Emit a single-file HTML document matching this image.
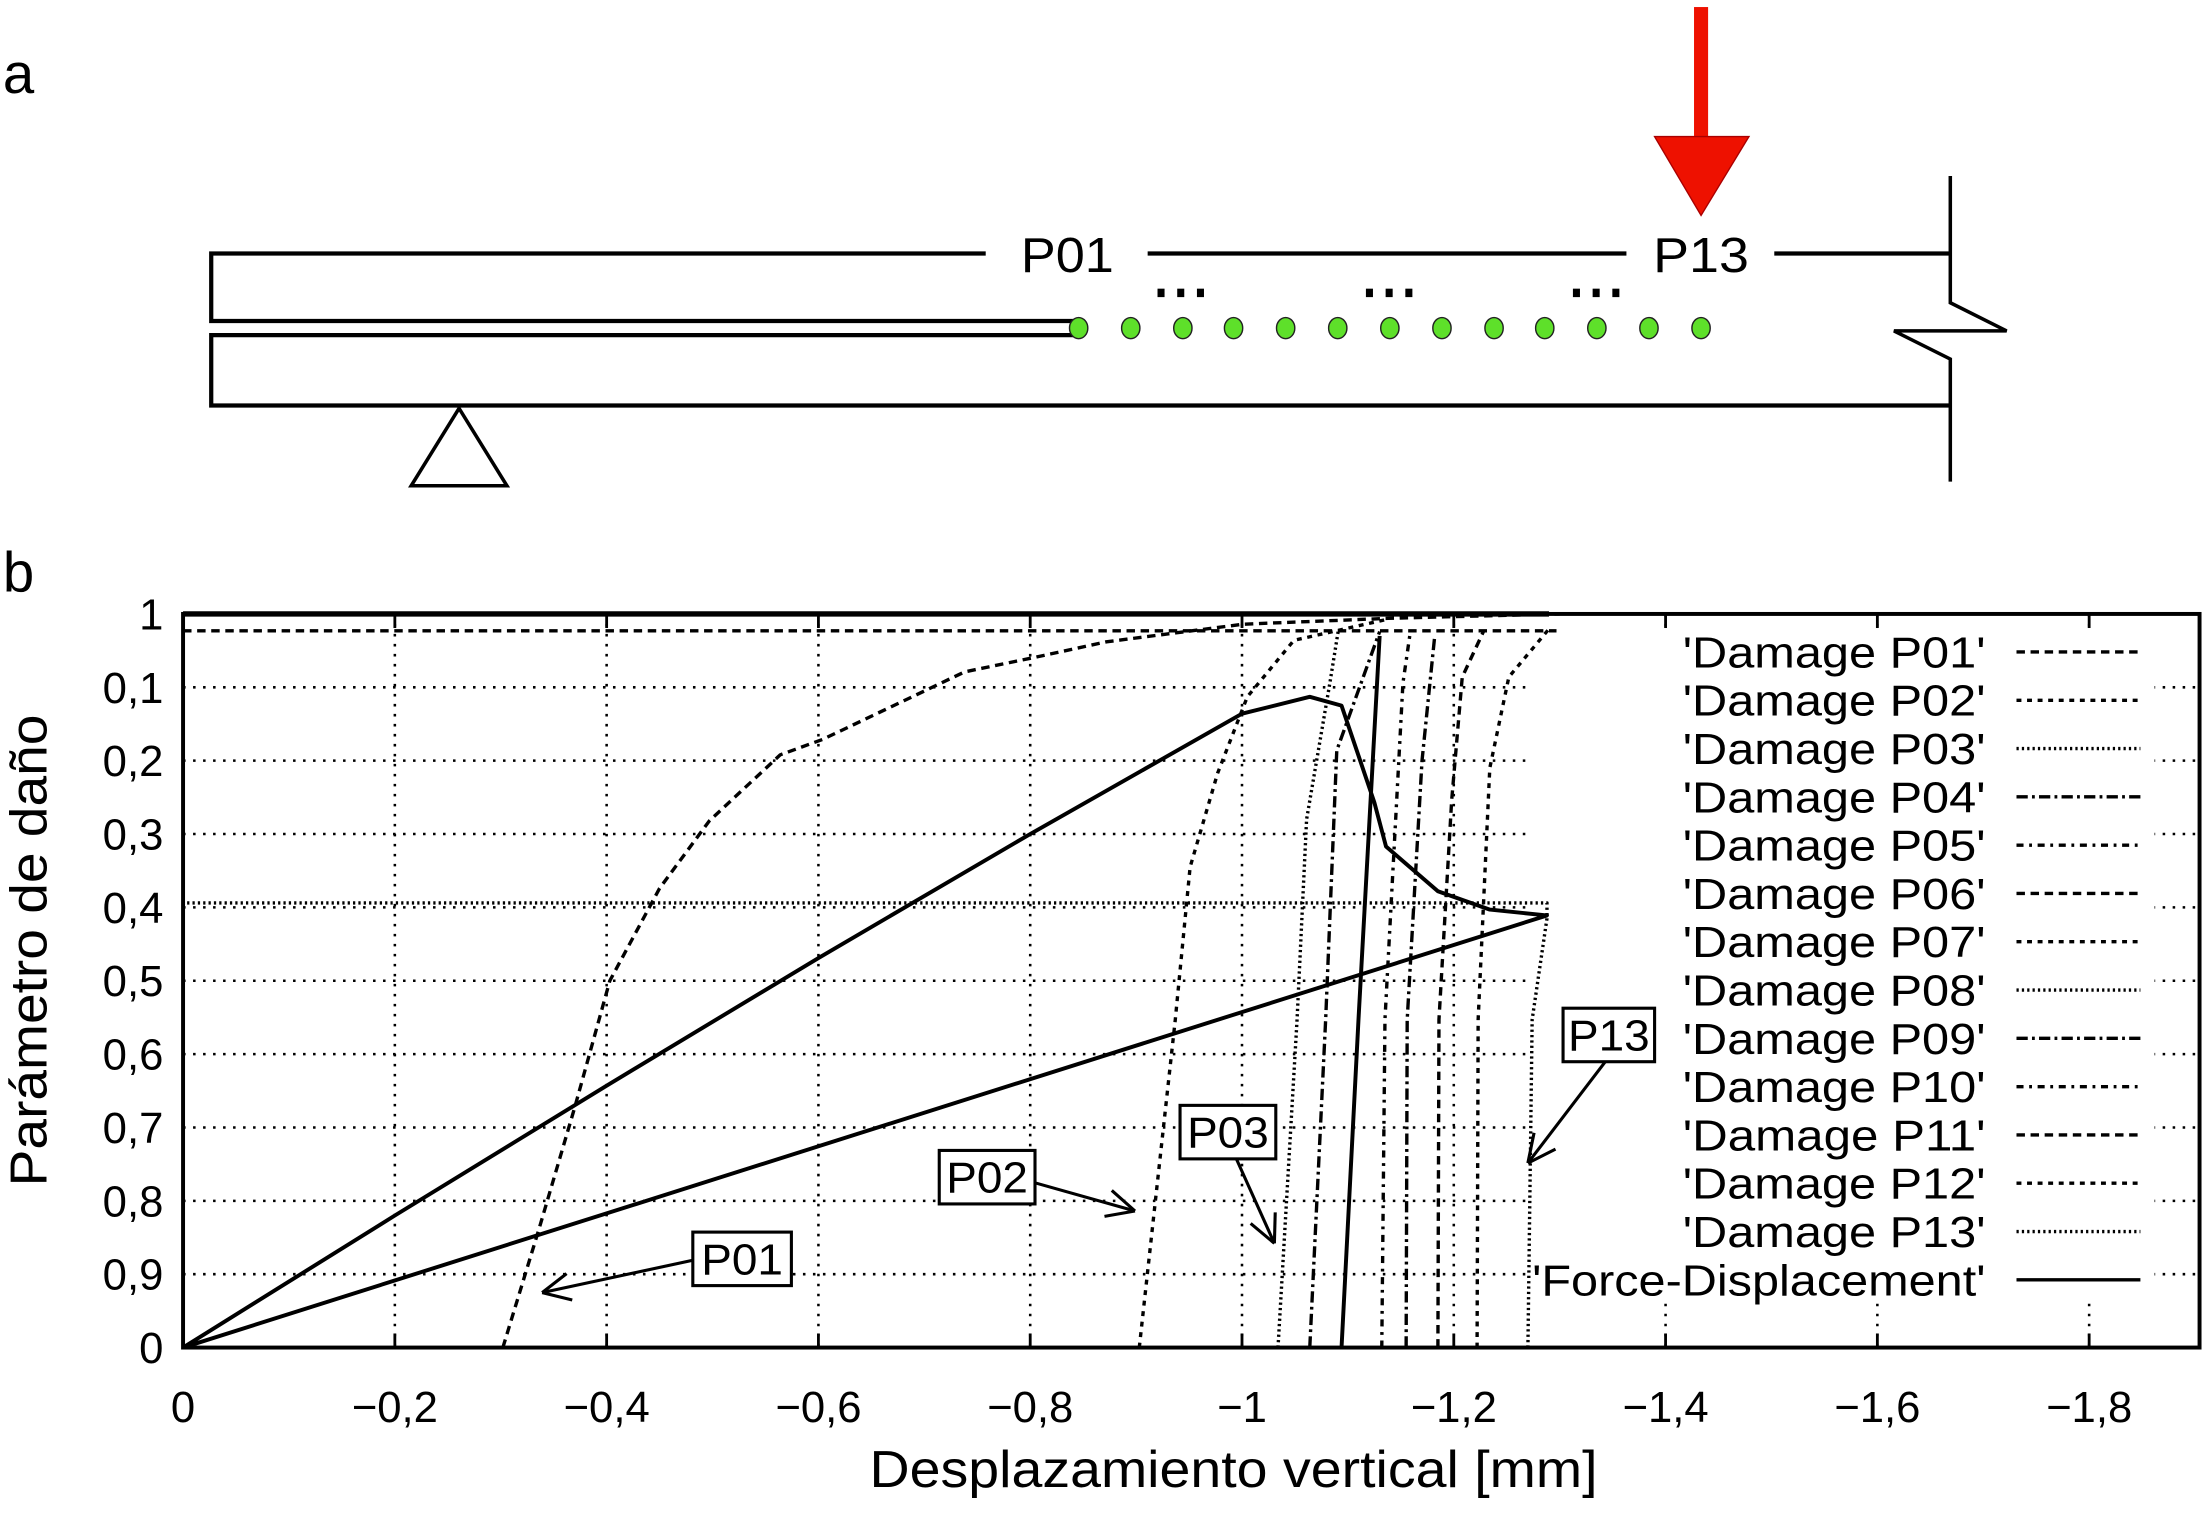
<!DOCTYPE html>
<html><head><meta charset="utf-8"><style>
html,body{margin:0;padding:0;background:#fff}
svg{display:block}
text{font-family:"Liberation Sans",sans-serif;fill:#000}
</style></head><body>
<svg id="fig" width="2208" height="1514" viewBox="0 0 1568 1075.2" preserveAspectRatio="none" xmlns="http://www.w3.org/2000/svg">
<g>
  <text x="2" y="66" font-size="40">a</text>
  <g stroke="#000" stroke-width="3" fill="none">
    <polyline points="700,180 150,180 150,228 762,228"/>
    <line x1="815" y1="180" x2="1155" y2="180"/>
    <line x1="1260" y1="180" x2="1385" y2="180"/>
    <polyline points="762,238 150,238 150,288 1385,288"/>
    <polyline points="1385,125 1385,215 1425,235 1345,235 1385,255 1385,342" stroke-width="2.5"/>
    <polygon points="326,290 292,345 360,345" stroke-width="2.5"/>
  </g>
  <text x="758" y="193" font-size="35" text-anchor="middle" textLength="66" lengthAdjust="spacingAndGlyphs">P01</text>
  <text x="1208" y="193" font-size="35" text-anchor="middle" textLength="68" lengthAdjust="spacingAndGlyphs">P13</text>
  <g id="dots"></g>
  <g fill="#000">
    <rect x="822" y="205" width="5" height="6"/><rect x="836" y="205" width="5" height="6"/><rect x="850" y="205" width="5" height="6"/>
    <rect x="970" y="205" width="5" height="6"/><rect x="984" y="205" width="5" height="6"/><rect x="998" y="205" width="5" height="6"/>
    <rect x="1117" y="205" width="5" height="6"/><rect x="1131" y="205" width="5" height="6"/><rect x="1145" y="205" width="5" height="6"/>
  </g>
  <g>
    <rect x="1203" y="5" width="10" height="93" fill="#ee1100"/>
    <polygon points="1175,97 1242,97 1208,153" fill="#ee1100" stroke="#a00" stroke-width="1"/>
  </g>
</g>
<text x="2" y="420" font-size="40">b</text>
<g id="grid"></g>
<rect x="1088" y="446" width="442" height="478" fill="#fff"/>
<g id="curves"></g>
<rect x="130" y="436" width="1432" height="521" fill="none" stroke="#000" stroke-width="2.8"/>
<line x1="130" y1="436" x2="1100" y2="436" stroke="#000" stroke-width="3.8"/>
<g id="ticks"></g>
<text x="876" y="1056" font-size="37" text-anchor="middle" textLength="517" lengthAdjust="spacingAndGlyphs">Desplazamiento vertical [mm]</text>
<text transform="translate(33,675) rotate(-90)" font-size="37" text-anchor="middle" textLength="335" lengthAdjust="spacingAndGlyphs">Parámetro de daño</text>
<g id="legend"></g>
<g id="annot"></g>
</svg>
<script>
const NS="http://www.w3.org/2000/svg";
const xTicks=[0,-0.2,-0.4,-0.6,-0.8,-1,-1.2,-1.4,-1.6,-1.8];
const xTickLabels=["0","\u22120,2","\u22120,4","\u22120,6","\u22120,8","\u22121","\u22121,2","\u22121,4","\u22121,6","\u22121,8"];
const yTicks=[1,0.9,0.8,0.7,0.6,0.5,0.4,0.3,0.2,0.1,0];
const yTickLabels=["1","0,1","0,2","0,3","0,4","0,5","0,6","0,7","0,8","0,9","0"];
const seriesNames=["'Damage P01'","'Damage P02'","'Damage P03'","'Damage P04'","'Damage P05'","'Damage P06'","'Damage P07'","'Damage P08'","'Damage P09'","'Damage P10'","'Damage P11'","'Damage P12'","'Damage P13'","'Force-Displacement'"];
const p01=[[-0.302,0],[-0.336,0.161],[-0.37,0.328],[-0.403,0.5],[-0.45,0.626],[-0.497,0.718],[-0.564,0.808],[-0.604,0.829],[-0.671,0.875],[-0.738,0.921],[-0.805,0.941],[-0.872,0.962],[-1.001,0.986],[-1.138,0.994],[-1.3,1.0]];
const p02=[[-0.903,0],[-0.937,0.447],[-0.951,0.655],[-0.977,0.783],[-1.005,0.887],[-1.049,0.964],[-1.138,0.993]];
const p03=[[-1.034,0],[-1.052,0.447],[-1.061,0.72],[-1.083,0.906],[-1.091,0.978]];
const p04=[[-1.064,0],[-1.079,0.447],[-1.0895,0.814],[-1.13,0.976]];
const p05=[[-1.132,0],[-1.135,0.447],[-1.152,0.906],[-1.159,0.976]];
const p06=[[-1.185,0],[-1.186,0.447],[-1.198,0.746],[-1.208,0.914],[-1.228,0.976]];
const p07=[];
const p08=[];
const p09=[[-1.155,0],[-1.156,0.447],[-1.17,0.8],[-1.182,0.97]];
const p10=[];
const p11=[[0,0.977],[-1.297,0.977]];
const p12=[[-1.222,0],[-1.223,0.447],[-1.234,0.79],[-1.252,0.914],[-1.289,0.978]];
const p13=[[-1.27,0],[-1.274,0.447],[-1.288,0.585],[-1.288,0.606],[0,0.606]];
const forceLoad=[[0,0],[-0.2,0.18],[-0.4,0.357],[-0.6,0.531],[-0.8,0.70],[-1,0.864],[-1.064,0.887],[-1.094,0.875],[-1.125,0.743],[-1.136,0.683],[-1.185,0.622],[-1.234,0.597],[-1.288,0.589],[0,0]];
const forceSteep=[[-1.094,0],[-1.110,0.447],[-1.13,0.97]];
const dotXs=[766,803,840,876,913,950,987,1024,1061,1097,1134,1171,1208];

const X=v=>130+(-v)*752, Y=v=>957-v*521;
const styles={dash:"6,4",short:"3.5,4",dot:"1.6,2.2",dd1:"8,3,2,3",dd2:"5,4,2,4",solid:""};
const seriesStyles=["dash","short","dot","dd1","dd2","dash","short","dot","dd1","dd2","dash","short","dot","solid"];
const seriesData=[p01,p02,p03,p04,p05,p06,p07,p08,p09,p10,p11,p12,p13,forceLoad];
function mk(tag,attrs,parent){const e=document.createElementNS(NS,tag);for(const k in attrs)e.setAttribute(k,attrs[k]);parent.appendChild(e);return e;}

const dots=document.getElementById('dots');
dotXs.forEach((x,i)=>{const c=mk('ellipse',{cx:x,cy:233,rx:6.5,ry:7.5,fill:'#5ee02a',stroke:'#222','stroke-width':1},dots);

});

const grid=document.getElementById('grid');
xTicks.forEach((t,i)=>{if(i===0)return;const l=mk('line',{x1:X(t),y1:436,x2:X(t),y2:957,stroke:'#000','stroke-width':1.8,'stroke-dasharray':'1.8,5.3'},grid);

});
yTicks.forEach((t,i)=>{if(i===0||i===yTicks.length-1)return;const l=mk('line',{x1:130,y1:Y(t),x2:1562,y2:Y(t),stroke:'#000','stroke-width':1.8,'stroke-dasharray':'1.8,5.3'},grid);

});

const ticks=document.getElementById('ticks');
xTicks.forEach((t,i)=>{const tx=mk('text',{x:X(t),y:1010,'font-size':31,'text-anchor':'middle'},ticks);tx.textContent=xTickLabels[i];


const a=mk('line',{x1:X(t),y1:957,x2:X(t),y2:947,stroke:'#000','stroke-width':2},ticks);


const b=mk('line',{x1:X(t),y1:436,x2:X(t),y2:446,stroke:'#000','stroke-width':2},ticks);

});
yTicks.forEach((t,i)=>{const tx=mk('text',{x:116,y:Y(t)+11,'font-size':31,'text-anchor':'end'},ticks);tx.textContent=yTickLabels[i];

});

const curves=document.getElementById('curves');
function draw(pts,style,name,w){if(!pts.length)return;const p=mk('polyline',{points:pts.map(d=>X(d[0])+','+Y(d[1])).join(' '),fill:'none',stroke:'#000','stroke-width':w||2.4,'stroke-linejoin':'round'},curves);
if(styles[style])p.setAttribute('stroke-dasharray',styles[style]);

}
seriesData.forEach((d,i)=>draw(d,seriesStyles[i],'series-'+(i+1),i===13?2.8:2.4));
draw(forceSteep,'solid','force-displacement-steep',2.8);

const legend=document.getElementById('legend');
seriesNames.forEach((n,i)=>{const y=463+i*34.3;const t=mk('text',{x:1410,y:y+11,'font-size':31,'text-anchor':'end',textLength:(i===13?322:215),lengthAdjust:'spacingAndGlyphs'},legend);t.textContent=n;


const l=mk('line',{x1:1432,y1:y,x2:1520,y2:y,stroke:'#000','stroke-width':2.4},legend);
if(styles[seriesStyles[i]])l.setAttribute('stroke-dasharray',styles[seriesStyles[i]]);

});

const annot=document.getElementById('annot');
const boxes=[["P01",492,875,562,913,[[492,895],[385,918]]],["P02",667,817,735,855,[[735,840],[806,860]]],["P03",838,785,906,823,[[878,823],[905,883]]],["P13",1110,716,1175,754,[[1140,754],[1085,826]]]];
boxes.forEach(b=>{const g=mk('g',{},annot);


mk('rect',{x:b[1],y:b[2],width:b[3]-b[1],height:b[4]-b[2],fill:'#fff',stroke:'#000','stroke-width':2.2},g);
const t=mk('text',{x:(b[1]+b[3])/2,y:b[4]-8,'font-size':31,'text-anchor':'middle',textLength:58,lengthAdjust:'spacingAndGlyphs'},g);t.textContent=b[0];
const [s,e]=b[5];mk('line',{x1:s[0],y1:s[1],x2:e[0],y2:e[1],stroke:'#000','stroke-width':2.2},g);
const ang=Math.atan2(e[1]-s[1],e[0]-s[0]);const L=22;
[0.45,-0.45].forEach(o=>mk('line',{x1:e[0],y1:e[1],x2:e[0]-L*Math.cos(ang+o),y2:e[1]-L*Math.sin(ang+o),stroke:'#000','stroke-width':2.2},g));});
</script>
</body></html>
